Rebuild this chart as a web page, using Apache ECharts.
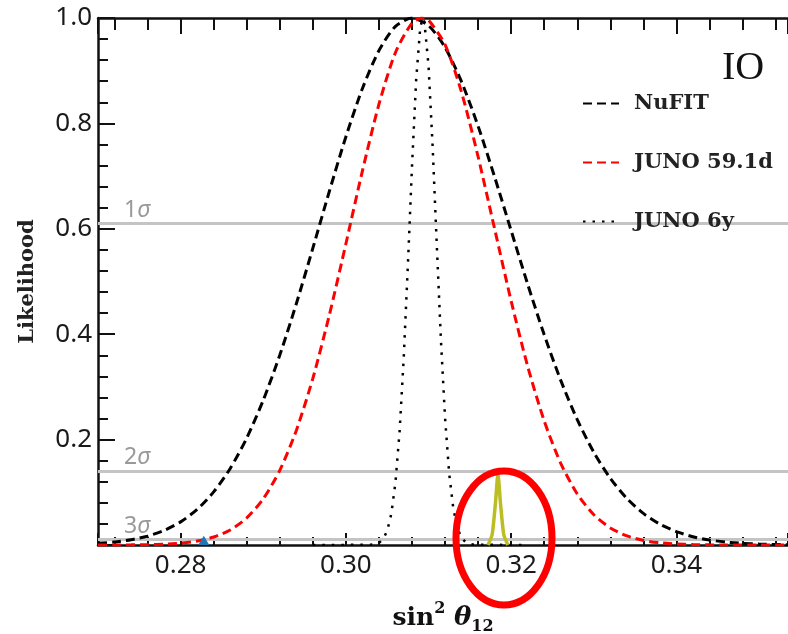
<!DOCTYPE html>
<html>
<head>
<meta charset="utf-8">
<script src="https://cdn.jsdelivr.net/npm/echarts@6/dist/echarts.min.js"></script>
<style>
  html, body { margin: 0; padding: 0; background: #fff; }
  #Chart1 { width: 788px; height: 634px; }
</style>
</head>
<body>
<div id="Chart1"></div>
<script>
// values: [sin^2 theta12, likelihood]
const nufit = [
  [0.270, 0.0032], [0.272, 0.0057], [0.274, 0.0100], [0.276, 0.0169], [0.278, 0.0277],
  [0.280, 0.0439], [0.282, 0.0676], [0.284, 0.1007], [0.286, 0.1453], [0.288, 0.2030],
  [0.290, 0.2749], [0.292, 0.3604], [0.294, 0.4578], [0.296, 0.5633], [0.298, 0.6713],
  [0.300, 0.7748], [0.302, 0.8663], [0.304, 0.9382], [0.306, 0.9842], [0.308, 1.0],
  [0.310, 0.9857], [0.312, 0.9442], [0.314, 0.8787], [0.316, 0.7947], [0.318, 0.6983],
  [0.320, 0.5963], [0.322, 0.4947], [0.324, 0.3988], [0.326, 0.3124], [0.328, 0.2378],
  [0.330, 0.1759], [0.332, 0.1264], [0.334, 0.0883], [0.336, 0.0599], [0.338, 0.0395],
  [0.340, 0.0253], [0.342, 0.0157], [0.344, 0.0095], [0.346, 0.0056], [0.348, 0.0032],
  [0.350, 0.0018], [0.352, 0.0010], [0.354, 0.0005]
];
const juno59 = [
  [0.270, 0.0], [0.272, 0.0001], [0.274, 0.0003], [0.276, 0.0007], [0.278, 0.0016],
  [0.280, 0.0036], [0.282, 0.0075], [0.284, 0.0151], [0.286, 0.0286], [0.288, 0.0514],
  [0.290, 0.0876], [0.292, 0.1417], [0.294, 0.2174], [0.296, 0.3163], [0.298, 0.4367],
  [0.300, 0.5717], [0.302, 0.7100], [0.304, 0.8364], [0.306, 0.9346], [0.308, 0.9905],
  [0.3092, 1.0], [0.310, 0.9958], [0.312, 0.9495], [0.314, 0.8588], [0.316, 0.7367],
  [0.318, 0.5996], [0.320, 0.4628], [0.322, 0.3388], [0.324, 0.2353], [0.326, 0.1549],
  [0.328, 0.0968], [0.330, 0.0574], [0.332, 0.0323], [0.334, 0.0172], [0.336, 0.0087],
  [0.338, 0.0042], [0.340, 0.0019], [0.342, 0.0008], [0.344, 0.0003], [0.346, 0.0001],
  [0.350, 0.0], [0.354, 0.0]
];
const juno6y = [
  [0.296, 0.0], [0.3030, 0.0004], [0.3035, 0.0014], [0.3040, 0.0041], [0.3045, 0.0111],
  [0.3050, 0.0270], [0.3055, 0.0596], [0.3060, 0.1192], [0.3065, 0.2163], [0.3070, 0.3559],
  [0.3075, 0.5311], [0.3080, 0.7189], [0.3085, 0.8825], [0.3090, 0.9826], [0.3093, 1.0],
  [0.3095, 0.9922], [0.3100, 0.9087], [0.3105, 0.7548], [0.3110, 0.5687], [0.3115, 0.3886],
  [0.3120, 0.2408], [0.3125, 0.1353], [0.3130, 0.0690], [0.3135, 0.0319], [0.3140, 0.0134],
  [0.3145, 0.0051], [0.3150, 0.0018], [0.3155, 0.0005], [0.322, 0.0]
];
const olivePeak = [
  [0.3172, 0.0], [0.3177, 0.02], [0.3181, 0.08], [0.3184, 0.135],
  [0.3187, 0.08], [0.3191, 0.02], [0.3196, 0.0]
];
const bluePeak = [[0.2822, 0.0], [0.2828, 0.016], [0.2834, 0.0]];

const sigmaLevels = [0.607, 0.135, 0.011];
const sigmaNames = ["1", "2", "3"];
const legendNames = ["NuFIT", "JUNO 59.1d", "JUNO 6y"];

const myChart = echarts.init(document.getElementById("Chart1"));

const tickFont = { fontFamily: "Noto Sans", fontSize: 26, color: "#1a1a1a" };
const tickLine = { color: "#111", width: 2 };

const baseX = {
  type: "value",
  min: 0.27,
  max: 0.3535,
  splitLine: { show: false },
  axisLine: { lineStyle: { color: "#111", width: 2.5 } },
  axisTick: { inside: true, length: 12, lineStyle: tickLine },
  minorTick: { show: true, splitNumber: 5, length: 8, lineStyle: tickLine },
};

const option = {
  animation: false,
  backgroundColor: "#fff",
  grid: { left: 98, right: 0, top: 18, bottom: 89, outerBoundsMode: "none" },
  legend: {
    data: legendNames,
    orient: "vertical",
    left: 577,
    top: 88,
    itemWidth: 36,
    itemHeight: 14,
    itemGap: 38,
    itemStyle: { opacity: 0 },
    textStyle: { fontFamily: "DejaVu Serif", fontWeight: "bold", fontSize: 21, color: "#222", padding: [0, 0, 0, 10] },
  },
  xAxis: [
    Object.assign({}, baseX, {
      position: "bottom",
      name: "sin{sup|2} {th|θ}{sub|12}",
      nameLocation: "middle",
      nameGap: 56,
      nameTextStyle: {
        rich: {
          sup: { fontFamily: "DejaVu Serif", fontSize: 16, fontWeight: "bold", verticalAlign: "top", lineHeight: 34, color: "#111" },
          th: { fontFamily: "DejaVu Serif", fontSize: 26, fontWeight: "bold", fontStyle: "italic", lineHeight: 34, color: "#111" },
          sub: { fontFamily: "DejaVu Serif", fontSize: 16, fontWeight: "bold", verticalAlign: "bottom", lineHeight: 34, color: "#111" },
        },
        fontFamily: "DejaVu Serif",
        fontSize: 25,
        fontWeight: "bold",
        lineHeight: 34,
        color: "#111",
      },
      axisLabel: Object.assign({}, tickFont, {
        margin: 8,
        showMinLabel: false,
        showMaxLabel: false,
        formatter: (v) => v.toFixed(2),
      }),
    }),
    Object.assign({}, baseX, {
      position: "top",
      axisLabel: { show: false },
      axisTick: { inside: true, length: 16, lineStyle: tickLine },
      minorTick: { show: true, splitNumber: 5, length: 12, lineStyle: tickLine },
    }),
  ],
  yAxis: {
    type: "value",
    min: 0,
    max: 1,
    interval: 0.2,
    name: "Likelihood",
    nameLocation: "middle",
    nameGap: 60,
    nameTextStyle: { fontFamily: "DejaVu Serif", fontWeight: "bold", fontSize: 21, color: "#222" },
    splitLine: { show: false },
    axisLine: { lineStyle: { color: "#111", width: 2.5 } },
    axisTick: { inside: true, length: 17, lineStyle: tickLine },
    minorTick: { show: true, splitNumber: 5, length: 10, lineStyle: tickLine },
    axisLabel: Object.assign({}, tickFont, {
      margin: 6,
      showMinLabel: false,
      formatter: (v) => v.toFixed(1),
    }),
  },
  series: [
    {
      name: "NuFIT",
      type: "line",
      data: nufit,
      symbol: "none",
      smooth: 0.25,
      lineStyle: { color: "#000", width: 3, type: [9, 5] },
      itemStyle: { color: "#000" },
      z: 3,
      markLine: {
        silent: true,
        symbol: ["none", "none"],
        lineStyle: { color: "#c4c4c4", width: 3, type: "solid" },
        label: {
          position: "insideStartTop",
          distance: [26, 2],
          fontFamily: "Noto Sans",
          fontSize: 23,
          color: "#999",
          formatter: (p) => p.name + "{s|σ}",
          rich: { s: { fontFamily: "Noto Sans", fontSize: 23, fontStyle: "italic", color: "#999" } },
        },
        data: sigmaLevels.map((v, i) => ({ yAxis: v, name: sigmaNames[i] })),
        z: 1,
      },
    },
    {
      name: "JUNO 59.1d",
      type: "line",
      data: juno59,
      symbol: "none",
      smooth: 0.25,
      lineStyle: { color: "#ff0000", width: 3, type: [9, 5] },
      itemStyle: { color: "#ff0000" },
      z: 4,
    },
    {
      name: "JUNO 6y",
      type: "line",
      data: juno6y,
      symbol: "none",
      lineStyle: { color: "#000", width: 2.5, type: [2.5, 7] },
      itemStyle: { color: "#000" },
      z: 4,
    },
    {
      name: "olive",
      type: "line",
      data: olivePeak,
      symbol: "none",
      smooth: 0.2,
      lineStyle: { color: "#bcbd22", width: 3.5 },
      z: 5,
    },
    {
      name: "blue",
      type: "line",
      data: bluePeak,
      symbol: "none",
      lineStyle: { color: "#1f77b4", width: 1 },
      areaStyle: { color: "#1f77b4", opacity: 1 },
      z: 5,
    },
  ],
  graphic: [
    {
      type: "text",
      left: 722,
      top: 48,
      style: { text: "IO", font: "40px 'Liberation Serif'", fill: "#111" },
    },
    {
      type: "ellipse",
      shape: { cx: 504, cy: 538, rx: 48, ry: 67 },
      style: { fill: "none", stroke: "#ff0000", lineWidth: 7 },
      z: 100,
    },
  ],
};

myChart.setOption(option);
</script>
</body>
</html>
